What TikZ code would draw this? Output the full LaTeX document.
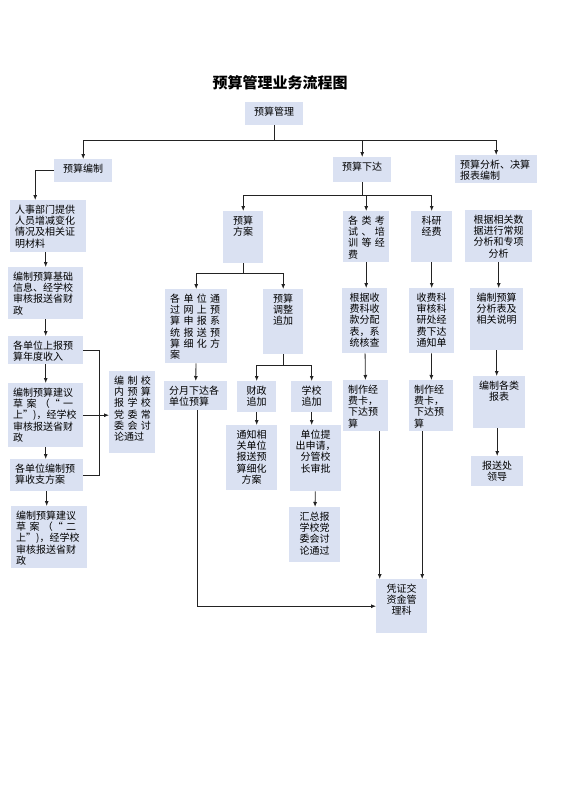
\documentclass[tikz,border=0pt]{standalone}
\usepackage{fontspec}
\setmainfont{Noto Sans CJK SC}
\usetikzlibrary{arrows.meta}
\definecolor{boxblue}{RGB}{218,225,242}
\definecolor{linegray}{RGB}{35,35,35}
\newcommand{\jl}[1]{\makebox[\linewidth][s]{#1}}
\tikzset{
  cell/.style 2 args={fill=boxblue, anchor=north west, inner xsep=5pt, inner ysep=4pt,
    text height=9pt, text width={#1-10pt}, text depth={#2-17pt}, align=center,
    font=\fontsize{10}{11.3}\selectfont},
  flow/.style={draw=linegray, line width=0.8pt},
}
\begin{document}
\begin{tikzpicture}[x=1pt, y=-1pt, >={Latex[length=5pt,width=4pt]}]
  \useasboundingbox (0,0) rectangle (560,792);
  \node[font=\fontsize{15}{18}\bfseries] (title) at (280,83) {预算管理业务流程图};

  % top level
  \node[cell={58}{23}] (root) at (245,102) {预算管理};
  \node[cell={58}{23}] (bianzhi) at (54,159) {预算编制};
  \node[cell={58}{25}] (xiada) at (333,157) {预算下达};
  \node[cell={82}{28}, align=left] (fenxi) at (455,155) {预算分析、决算\\报表编制};

  % left column
  \node[cell={76}{52}, align=left] (renshi) at (10,200) {人事部门提供\\人员增减变化\\情况及相关证\\明材料};
  \node[cell={75}{52}, align=left] (jichu) at (8,267) {编制预算基础\\信息、经学校\\审核报送省财\\政};
  \node[cell={75}{28}, align=left] (shangbao) at (8,336) {各单位上报预\\算年度收入};
  \node[cell={75}{64}, align=left] (yishang) at (8,383) {编制预算建议\\\jl{草 案 （“ 一}\\上”)，经学校\\审核报送省财\\政};
  \node[cell={73}{32}, align=left] (shouzhi) at (10,459) {各单位编制预\\算收支方案};
  \node[cell={76}{62}, align=left] (ershang) at (11,506) {编制预算建议\\\jl{草 案 （“ 二}\\上”)，经学校\\审核报送省财\\政};
  \node[cell={46}{82}, align=left] (xiaonei) at (109,371) {\jl{编 制 校}\\\jl{内 预 算}\\\jl{报 学 校}\\\jl{党 委 常}\\\jl{委 会 讨}\\论通过};

  % middle
  \node[cell={40}{52}] (fangan) at (223,211) {预算\\方案};
  \node[cell={62}{74}, align=left] (wangshang) at (165,289) {\jl{各 单 位 通}\\\jl{过 网 上 预}\\\jl{算 申 报 系}\\\jl{统 报 送 预}\\\jl{算 细 化 方}\\案};
  \node[cell={40}{65}] (tiaozheng) at (263,289) {预算\\调整\\追加};
  \node[cell={63}{29}, align=left] (fenyue) at (164,381) {分月下达各\\单位预算};
  \node[cell={39}{31}] (caizheng) at (237,381) {财政\\追加};
  \node[cell={41}{31}] (xuexiao) at (291,381) {学校\\追加};
  \node[cell={51}{65}] (tongzhi) at (226,425) {通知相\\关单位\\报送预\\算细化\\方案};
  \node[cell={51}{66}] (shenqing) at (290,425) {单位提\\出申请，\\分管校\\长审批};
  \node[cell={51}{55}] (huizong) at (289,507) {汇总报\\学校党\\委会讨\\论通过};

  % right columns
  \node[cell={46}{51}, align=left] (kaoshi) at (343,211) {\jl{各 类 考}\\\jl{试 、 培}\\\jl{训 等 经}\\费};
  \node[cell={41}{51}] (keyan) at (411,211) {科研\\经费};
  \node[cell={67}{52}] (genju) at (465,210) {根据相关数\\据进行常规\\分析和专项\\分析};
  \node[cell={45}{65}] (hedui) at (342,288) {根据收\\费科收\\款分配\\表，系\\统核查};
  \node[cell={45}{65}] (shenhe) at (409,288) {收费科\\审核科\\研处经\\费下达\\通知单};
  \node[cell={53}{62}] (fenxibiao) at (470,288) {编制预算\\分析表及\\相关说明};
  \node[cell={45}{51}, align=left] (jingfei1) at (343,380) {制作经\\费卡，\\下达预\\算};
  \node[cell={44}{51}, align=left] (jingfei2) at (409,380) {制作经\\费卡，\\下达预\\算};
  \node[cell={52}{52}] (baobiao) at (473,376) {编制各类\\报表};
  \node[cell={52}{30}] (lingdao) at (471,456) {报送处\\领导};
  \node[cell={51}{54}] (pingzheng) at (376,579) {凭证交\\资金管\\理科};

  % connectors
  \coordinate (bar1) at (0,140);
  \draw[flow] (root) -- (root |- bar1);
  \draw[flow,->] (root |- bar1) -| (bianzhi);
  \draw[flow,->] (root |- bar1) -| (xiada);
  \draw[flow,->] (root |- bar1) -| (fenxi);

  \draw[flow,->] (bianzhi.west) -| ([xshift=-13pt]renshi.north);
  \draw[flow,->] (renshi.south -| jichu.north) -- (jichu.north);
  \draw[flow,->] (jichu) -- (shangbao);
  \draw[flow,->] (shangbao) -- (yishang);
  \draw[flow,->] (yishang.south) -- (yishang.south |- shouzhi.north);
  \draw[flow,->] (shouzhi.south) -- (shouzhi.south |- ershang.north);
  \draw[flow] (shangbao.east) -- ++(16,0) |- (shouzhi.east);
  \draw[flow,->] (yishang.east) -- (yishang.east -| xiaonei.west);

  \coordinate (bar2) at (0,195);
  \draw[flow] (xiada) -- (xiada |- bar2);
  \draw[flow,->] (xiada |- bar2) -| (fangan);
  \draw[flow,->] (xiada |- bar2) -| (kaoshi);
  \draw[flow,->] (xiada |- bar2) -| (keyan);

  \coordinate (bar3) at (0,273);
  \draw[flow] (fangan) -- (fangan |- bar3);
  \draw[flow,->] (fangan |- bar3) -| (wangshang);
  \draw[flow,->] (fangan |- bar3) -| (tiaozheng);

  \coordinate (bar4) at (0,365);
  \draw[flow] (tiaozheng) -- (tiaozheng |- bar4);
  \draw[flow,->] (tiaozheng |- bar4) -| (caizheng);
  \draw[flow,->] (tiaozheng |- bar4) -| (xuexiao);

  \draw[flow,->] (wangshang) -- (fenyue);
  \draw[flow,->] (caizheng) -- (caizheng |- tongzhi.north);
  \draw[flow,->] (xuexiao) -- (xuexiao |- shenqing.north);
  \draw[flow,->] (shenqing) -- (huizong);
  \draw[flow,->] (kaoshi) -- (kaoshi |- hedui.north);
  \draw[flow,->] (keyan) -- (shenhe);
  \draw[flow,->] (genju) -- (genju |- fenxibiao.north);
  \draw[flow,->] (hedui) -- (jingfei1);
  \draw[flow,->] (shenhe) -- (jingfei2);
  \draw[flow,->] (fenxibiao.south) -- (fenxibiao.south |- baobiao.north);
  \draw[flow,->] (lingdao.north |- baobiao.south) -- (lingdao.north);
  \draw[flow,->] ([xshift=14pt]jingfei1.south) -- ([xshift=14pt]jingfei1.south |- pingzheng.north);
  \draw[flow,->] ([xshift=-9pt]jingfei2.south) -- ([xshift=-9pt]jingfei2.south |- pingzheng.north);
  \draw[flow,->] ([xshift=2pt]fenyue.south) |- (pingzheng.west);
\end{tikzpicture}
\end{document}
